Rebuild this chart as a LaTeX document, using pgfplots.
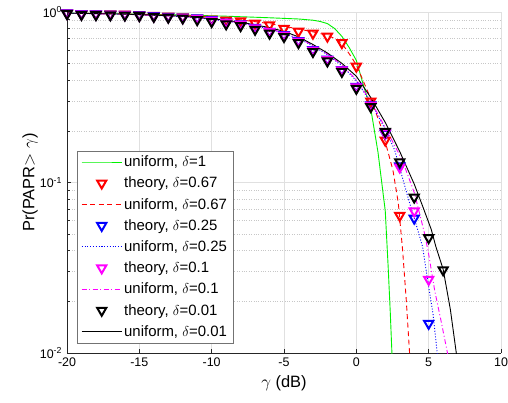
\documentclass[border=0pt]{standalone}
\usepackage{fontspec}
\setmainfont{Liberation Sans}
\usepackage{pgfplots}
\pgfplotsset{compat=1.18}
\definecolor{mg}{rgb}{0,0.95,0}
\definecolor{mm}{rgb}{1,0,1}
\begin{document}
\begin{tikzpicture}
\useasboundingbox (-67bp,-50bp) rectangle (441bp,353bp);
\begin{axis}[
  scale only axis, width=434bp, height=341bp,
  at={(0,0)}, anchor=south west,
  xmin=-20, xmax=10, ymin=0.01, ymax=1, ymode=log,
  xtick={-20,-15,-10,-5,0,5,10},
  xticklabels={-20,-15,-10,-5,0,5,10},
  ytick={0.01,0.1,1},
  yticklabels={10\textsuperscript{-2},10\textsuperscript{-1},10\textsuperscript{0}},
  axis x line*=bottom, axis y line*=left,
  axis line style={black!85, line width=0.6bp},
  grid=both,
  major grid style={black!12, line width=0.6bp},
  minor grid style={black!22, dotted, line width=0.5bp},
  tick align=inside, tick style={black!85, line width=0.6bp},
  major tick length=4bp, minor tick length=2.5bp,
  ticklabel style={font=\fontsize{12.5}{14}\selectfont},
  xticklabel style={yshift=-1bp},
  yticklabel style={xshift=-1.5bp},
  xlabel={$\gamma$ (dB)}, ylabel={Pr(PAPR$>\gamma$)},
  label style={font=\fontsize{16.5}{19}\selectfont},
  xlabel style={at={(axis description cs:0.5,-0.088)}, anchor=center},
  ylabel style={at={(axis description cs:-0.085,0.5)}, anchor=center},
  legend style={at={(rel axis cs:0.023,0.029)}, anchor=south west,
    draw=black!55, line width=0.6bp, fill=white,
    font=\fontsize{15}{17}\selectfont, row sep=4.9bp,
    inner xsep=4bp, inner ysep=3bp},
  legend cell align=left,
  legend image code/.code={\draw[mark repeat=2,mark phase=2,#1] plot coordinates {(0bp,0bp) (20bp,0bp) (40bp,0bp)};},
  theory/.style={only marks, mark=triangle, mark size=5.3bp,
    mark options={rotate=180, solid, line width=2bp},
    legend image code/.code={\draw[##1] plot coordinates {(20bp,0bp)};}},
]
% uniform delta=1
\addplot[color=mg, line width=0.9bp] coordinates {
(-20,0.985) (-16,0.975) (-12,0.96) (-9,0.945) (-6,0.925) (-4,0.91) (-3,0.895)
(-2.5,0.88) (-2,0.855) (-1.5,0.80) (-1,0.72) (-0.5,0.62) (0,0.52) (0.5,0.37)
(1,0.27) (1.5,0.15) (2,0.068) (2.2,0.032) (2.35,0.017) (2.46,0.01) (2.5,0.0085)};
\addlegendentry{uniform, $\delta$=1}
% theory delta=0.67
\addplot[theory, red] coordinates {
(-20,0.985) (-19,0.977) (-18,0.974) (-17,0.972) (-16,0.969) (-15,0.962) (-14,0.953)
(-13,0.945) (-12,0.935) (-11,0.918) (-10,0.905) (-9,0.895) (-8,0.885) (-7,0.86)
(-6,0.84) (-5,0.80) (-4,0.77) (-3,0.75) (-2,0.72) (-1,0.66) (0,0.48) (1,0.30)
(2,0.177) (3,0.064)};
\addlegendentry{theory, $\delta$=0.67}
% uniform delta=0.67
\addplot[color=red, line width=0.9bp, dash pattern=on 5bp off 3.5bp] coordinates {
(-20,0.985) (-16,0.975) (-12,0.955) (-10,0.935) (-8,0.90) (-6,0.855) (-4,0.795)
(-3,0.765) (-2,0.73) (-1.5,0.70) (-1,0.655) (-0.5,0.57) (0,0.49) (0.5,0.39)
(1,0.31) (1.73,0.21) (2.2,0.15) (2.53,0.118) (2.9,0.076) (3.2,0.040) (3.45,0.0205)
(3.68,0.01) (3.72,0.009)};
\addlegendentry{uniform, $\delta$=0.67}
% theory delta=0.25
\addplot[theory, blue] coordinates {
(-20,0.985) (-19,0.975) (-18,0.972) (-17,0.97) (-16,0.967) (-15,0.96) (-14,0.95)
(-13,0.94) (-12,0.93) (-11,0.922) (-10,0.899) (-9,0.871) (-8,0.851) (-7,0.81)
(-6,0.769) (-5,0.734) (-4,0.677) (-3,0.60) (-2,0.528) (-1,0.458) (0,0.365)
(1,0.285) (2,0.194) (3,0.125) (4,0.0617) (5,0.0149)};
\addlegendentry{theory, $\delta$=0.25}
% uniform delta=0.25
\addplot[color=blue, line width=0.9bp, dash pattern=on 1bp off 1.8bp] coordinates {
(-20,0.984) (-16,0.97) (-12,0.94) (-10,0.907) (-8,0.862) (-6,0.795) (-4,0.70)
(-3,0.632) (-2,0.562) (-1,0.485) (0,0.395) (1,0.295) (2,0.205) (2.65,0.155)
(3.6,0.080) (4.1,0.058) (4.58,0.042) (4.95,0.026) (5.3,0.017) (5.57,0.0104)
(5.62,0.0094)};
\addlegendentry{uniform, $\delta$=0.25}
% theory delta=0.1
\addplot[theory, mm] coordinates {
(-20,0.983) (-19,0.973) (-18,0.97) (-17,0.968) (-16,0.965) (-15,0.955) (-14,0.945)
(-13,0.935) (-12,0.925) (-11,0.917) (-10,0.895) (-9,0.867) (-8,0.847) (-7,0.806)
(-6,0.765) (-5,0.73) (-4,0.674) (-3,0.597) (-2,0.525) (-1,0.456) (0,0.363)
(1,0.283) (2,0.195) (3,0.123) (4,0.068) (5,0.027)};
\addlegendentry{theory, $\delta$=0.1}
% uniform delta=0.1
\addplot[color=mm, line width=0.9bp, dash pattern=on 5bp off 2.5bp on 1bp off 2.5bp] coordinates {
(-20,0.984) (-16,0.97) (-12,0.942) (-10,0.909) (-8,0.865) (-6,0.80) (-4,0.705)
(-3,0.637) (-2,0.567) (-1,0.49) (0,0.40) (1,0.30) (2,0.21) (3.18,0.135)
(4.03,0.086) (4.72,0.050) (5.0,0.038) (5.41,0.0234) (5.9,0.0148) (6.3,0.0100)
(6.35,0.0094)};
\addlegendentry{uniform, $\delta$=0.1}
% theory delta=0.01
\addplot[theory, black] coordinates {
(-20,0.975) (-19,0.965) (-18,0.962) (-17,0.96) (-16,0.957) (-15,0.95) (-14,0.94)
(-13,0.93) (-12,0.92) (-11,0.90) (-10,0.877) (-9,0.85) (-8,0.83) (-7,0.79)
(-6,0.75) (-5,0.716) (-4,0.66) (-3,0.585) (-2,0.515) (-1,0.447) (0,0.356)
(1,0.278) (2,0.199) (3,0.132) (4,0.082) (5,0.0474) (6,0.0307)};
\addlegendentry{theory, $\delta$=0.01}
% uniform delta=0.01
\addplot[color=black, line width=0.9bp] coordinates {
(-20,0.985) (-16,0.972) (-12,0.945) (-10,0.915) (-8,0.872) (-6,0.81) (-5,0.77)
(-4,0.715) (-3,0.645) (-2,0.575) (-1,0.50) (0,0.42) (1,0.315) (2,0.225)
(3,0.152) (4,0.098) (4.6,0.072) (5.18,0.053) (5.5,0.042) (6,0.031) (6.5,0.018)
(6.91,0.01) (6.96,0.009)};
\addlegendentry{uniform, $\delta$=0.01}
\end{axis}
\end{tikzpicture}
\end{document}
